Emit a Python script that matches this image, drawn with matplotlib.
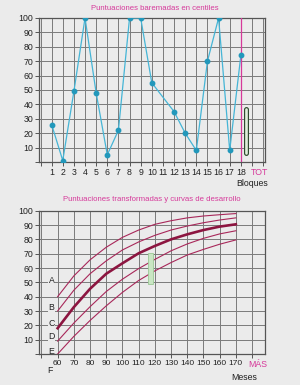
import matplotlib
matplotlib.use("Agg")
import matplotlib.pyplot as plt
from matplotlib.font_manager import FontProperties

FAM = ["Liberation Sans", "DejaVu Sans"]
plt.rcParams['font.family'] = FAM
FP = lambda size: FontProperties(family=FAM, size=size)

# ---- data: top chart ----
bloques = [1, 2, 3, 4, 5, 6, 7, 8, 9, 10, 12, 13, 14, 15, 16, 17, 18]
centiles = [26, 1, 49, 100, 48, 5, 22, 100, 100, 55, 35, 20, 8, 70, 100, 8, 74]
top_xtick_labels = ["", "1", "2", "3", "4", "5", "6", "7", "8", "9", "10", "11", "12",
                    "13", "14", "15", "16", "17", "18", "", ""]
tot_range = [6, 37]

# ---- data: bottom chart ----
meses = [60, 70, 80, 90, 100, 110, 120, 130, 140, 150, 160, 170]
curve_a = [40, 54.5, 65.7, 74.5, 81.4, 86.5, 90.5, 93, 95, 96.3, 97.2, 98]
curve_b = [30, 44.5, 56, 65, 72.6, 78.2, 82.8, 86.5, 89.3, 91.6, 93.5, 95]
curve_c = [18, 32.7, 45.5, 56, 63.3, 70.3, 75.4, 80, 83.5, 86.5, 88.9, 90.5]
curve_d = [9, 21.6, 33, 43.6, 52.2, 59.6, 66, 72, 76.8, 80.7, 83.8, 86]
curve_e = [0, 12.3, 23.4, 33.6, 43, 51.3, 58, 63.8, 69.1, 73, 76.6, 79.6]
band_letters = ["A", "B", "C", "D", "E"]
band_y = [51.5, 32.5, 21.5, 12, 2]
bottom_xticks = list(range(50, 190, 10))
bottom_xtick_labels = [""] + [str(v) for v in range(60, 180, 10)] + [""]
green_box = (115.5, 49, 3.1, 21.5)  # x, y, w, h

BG = "#ebebeb"
GRID = "#7a7a7a"
SPINE = "#555555"
MAG = "#d6399a"
TXT = "#222222"
FS = 6.3
FS_X2 = 6.0
FS_T = 5.6
fig = plt.figure(figsize=(3.0, 3.85), dpi=100, facecolor=BG)

def style(ax):
    ax.set_facecolor(BG)
    for s in ax.spines.values():
        s.set_color(SPINE)
        s.set_linewidth(0.9)
    ax.grid(True, color=GRID, linewidth=0.7)
    ax.set_axisbelow(True)
    ax.tick_params(direction="out", length=3, width=0.7, color=SPINE, pad=1.5)
    ax.set_ylim(0, 100)
    ax.set_yticks(range(0, 101, 10))
    ax.set_yticklabels([""] + [str(v) for v in range(10, 101, 10)])

def fix_labels(ax, xs):
    for lbl in ax.get_xticklabels():
        lbl.set_fontproperties(FP(xs))
        lbl.set_color(TXT)
    for lbl in ax.get_yticklabels():
        lbl.set_fontproperties(FP(FS))
        lbl.set_color(TXT)

# ---- top chart ----
ax1 = fig.add_axes([39.5/300, 1-162/385, 225.5/300, 144/385])
style(ax1)
ax1.set_xlim(-0.09, 20.17)
ax1.set_xticks(range(0, 21))
ax1.set_xticklabels(top_xtick_labels)
fix_labels(ax1, FS)
ax1.plot(bloques, centiles, color="#45b5d6", lw=0.9, zorder=3)
ax1.plot(bloques, centiles, "o", color="#2298bb", ms=3.2, zorder=4)
ax1.axvline(18, color=MAG, lw=0.9, zorder=3)
ax1.plot([18.46, 18.46], tot_range, color="#2e4a2e", lw=3.6, solid_capstyle="round", zorder=4)
ax1.plot([18.46, 18.46], tot_range, color="#e0f0dc", lw=1.9, solid_capstyle="round", zorder=5)
ax1.text(18.9, -7.3, "TOT", color=MAG, fontproperties=FP(FS), ha="left", va="center",
         clip_on=False)
fig.text(155/300, 1-8/385, "Puntuaciones baremadas en centiles", color=MAG,
         fontproperties=FP(FS_T), ha="center", va="center")
fig.text(252/300, 1-183.5/385, "Bloques", color=TXT, fontproperties=FP(FS),
         ha="center", va="center")

# ---- bottom chart ----
ax2 = fig.add_axes([39.5/300, 1-354/385, 225.5/300, 143.3/385])
style(ax2)
ax2.set_xlim(48.8, 188)
ax2.set_xticks(bottom_xticks)
ax2.set_xticklabels(bottom_xtick_labels)
fix_labels(ax2, FS_X2)
CUR = "#a8285a"
for c in [curve_a, curve_b, curve_d, curve_e]:
    ax2.plot(meses, c, color=CUR, lw=0.8, zorder=3)
ax2.plot(meses, curve_c, color="#8c1540", lw=1.9, zorder=3)
ax2.add_patch(plt.Rectangle(green_box[:2], green_box[2], green_box[3],
                            facecolor="#c9e6c3", edgecolor="#9cc896", lw=0.6, zorder=4))
for t, y in zip(band_letters, band_y):
    ax2.text(56.3, y, t, fontproperties=FP(FS), ha="center", va="center", color=TXT,
             bbox=dict(facecolor=BG, edgecolor="none", pad=0.3), zorder=2)
ax2.text(55.0, -11.5, "F", fontproperties=FP(FS), ha="center", va="center", color=TXT,
         clip_on=False)
ax2.text(183.6, -7.2, "MÁS", fontproperties=FP(FS), ha="center", va="center", color=MAG,
         clip_on=False)
fig.text(152/300, 1-200/385, "Puntuaciones transformadas y curvas de desarrollo",
         color=MAG, fontproperties=FP(FS_T), ha="center", va="center")
fig.text(244/300, 1-377/385, "Meses", color=TXT, fontproperties=FP(FS),
         ha="center", va="center")

fig.savefig("out.png", dpi=100, facecolor=BG)
